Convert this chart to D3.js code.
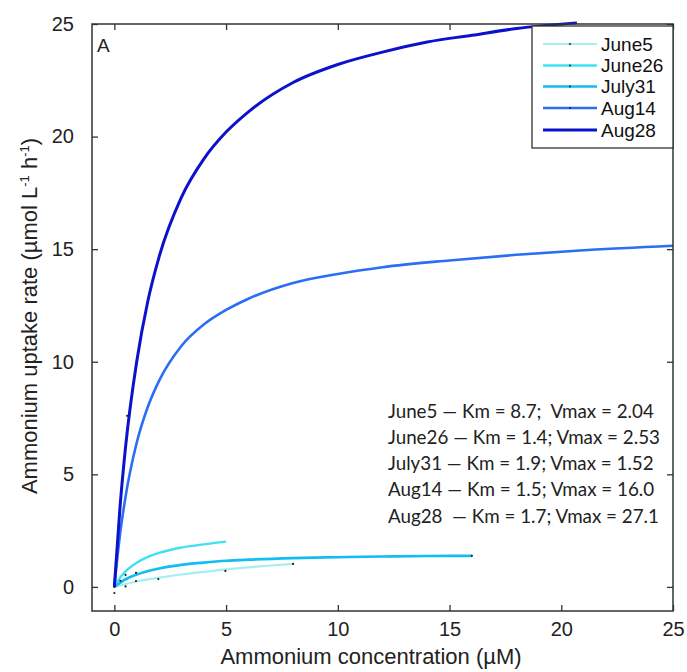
<!DOCTYPE html>
<html>
<head>
<meta charset="utf-8">
<script src="https://cdn.jsdelivr.net/npm/d3@7"></script>
<style>
  html, body { margin: 0; padding: 0; background: #fff; }
  svg { display: block; }
  .tick-label { font-family: "Liberation Sans", Arial, sans-serif; font-size: 20px; fill: #222; }
  .axis-title { font-family: "Liberation Sans", Arial, sans-serif; font-size: 22px; fill: #222; }
  .panel { font-family: "Liberation Sans", Arial, sans-serif; font-size: 19px; fill: #222; }
  .legend-text { font-family: "Liberation Sans", Arial, sans-serif; font-size: 19px; fill: #111; }
  .note { font-family: Lato, "Open Sans", sans-serif; font-size: 18.8px; fill: #222; }
</style>
</head>
<body>
<svg id="chart" width="687" height="672"></svg>
<script>
// Sampling dates (one uptake curve each)
const series = ["June5", "June26", "July31", "Aug14", "Aug28"];
const colors = ["#a6eef2", "#3fe2f2", "#12bdf2", "#2a6ef5", "#0a12cc"];
const widths = [2.2, 2.4, 2.6, 2.6, 3];

// Fitted uptake curves: concentration (µM) and uptake rate (µmol L-1 h-1)
const june5X  = [0, 0.5, 1, 2, 3, 4, 5, 6, 7, 8];
const june5Y  = [0, 0.13, 0.24, 0.41, 0.55, 0.67, 0.78, 0.87, 0.95, 1.02];
const june26X = [0, 0.25, 0.5, 1, 1.5, 2, 2.5, 3, 4, 5];
const june26Y = [0, 0.40, 0.69, 1.07, 1.33, 1.51, 1.64, 1.75, 1.89, 2.01];
const july31X = [0, 0.5, 1, 2, 3, 4, 5, 6, 8, 10, 12, 14, 16];
const july31Y = [0, 0.34, 0.55, 0.82, 0.98, 1.08, 1.16, 1.21, 1.28, 1.32, 1.35, 1.37, 1.38];
const aug14X  = [0, 0.25, 0.5, 1, 1.5, 2, 3, 4, 5, 6, 8, 10, 12, 15, 18, 21, 25];
const aug14Y  = [0, 2.3, 4.0, 6.4, 8.0, 9.15, 10.7, 11.65, 12.3, 12.8, 13.5, 13.9, 14.2, 14.5, 14.75, 14.95, 15.15];
const aug28X  = [0, 0.25, 0.5, 1, 1.5, 2, 3, 4, 5, 6, 8, 10, 12, 14, 16, 18, 20.7];
const aug28Y  = [0, 3.5, 6.2, 10.0, 12.7, 14.65, 17.3, 19.0, 20.2, 21.1, 22.4, 23.2, 23.75, 24.2, 24.5, 24.8, 25.05];

// Measured points (black dots)
const obsX = [0, 0, 0.27, 0.5, 0.5, 0.97, 0.97, 1.97, 4.97, 8.0, 16.0, 0.57];
const obsY = [0, -0.27, 0.27, 0.53, 0.02, 0.62, 0.26, 0.35, 0.71, 1.02, 1.38, 7.6];

// Axis ticks
const xTicks = [0, 5, 10, 15, 20, 25];
const yTicks = [0, 5, 10, 15, 20, 25];

// Kinetic parameter notes
const notes = [
  "June5 \u2014 Km = 8.7;\u00a0 Vmax = 2.04",
  "June26 \u2014 Km = 1.4; Vmax = 2.53",
  "July31 \u2014 Km = 1.9; Vmax = 1.52",
  "Aug14 \u2014 Km = 1.5; Vmax = 16.0",
  "Aug28 \u00a0\u2014 Km = 1.7; Vmax = 27.1"
];

const curves = [
  [june5X, june5Y], [june26X, june26Y], [july31X, july31Y], [aug14X, aug14Y], [aug28X, aug28Y]
].map(([xs, ys], i) => ({ name: series[i], color: colors[i], width: widths[i],
  pts: xs.map((x, j) => [x, ys[j]]) }));

const svg = d3.select("#chart");
const L = 92, R = 673, T = 24, B = 611;

const x = d3.scaleLinear().domain([-1, 25]).range([L, R]);
const y = d3.scaleLinear().domain([-1.07, 25]).range([B, T]);

svg.append("defs").append("clipPath").attr("id", "plotClip")
  .append("rect").attr("x", L).attr("y", T - 4).attr("width", R - L).attr("height", B - T + 4);

const line = d3.line().x(d => x(d[0])).y(d => y(d[1])).curve(d3.curveMonotoneX);

const plot = svg.append("g").attr("clip-path", "url(#plotClip)");
plot.selectAll("path.curve").data(curves).join("path")
  .attr("class", "curve")
  .attr("d", d => line(d.pts))
  .attr("fill", "none")
  .attr("stroke", d => d.color)
  .attr("stroke-width", d => d.width)
  .attr("stroke-linejoin", "round");

plot.selectAll("circle.obs").data(obsX.map((v, i) => [v, obsY[i]])).join("circle")
  .attr("class", "obs")
  .attr("cx", d => x(d[0])).attr("cy", d => y(d[1]))
  .attr("r", 1.1).attr("fill", "#222");

// Frame with inward ticks on all four sides
const frameColor = "#333";
const tickLen = 6;
const axB = svg.append("g").attr("transform", `translate(0,${B})`)
  .call(d3.axisBottom(x).tickValues(xTicks).tickSizeInner(-tickLen).tickSizeOuter(0).tickPadding(11));
const axT = svg.append("g").attr("transform", `translate(0,${T})`)
  .call(d3.axisTop(x).tickValues(xTicks).tickSizeInner(-tickLen).tickSizeOuter(0).tickFormat(""));
const axL = svg.append("g").attr("transform", `translate(${L},0)`)
  .call(d3.axisLeft(y).tickValues(yTicks).tickSizeInner(-tickLen).tickSizeOuter(0).tickPadding(18));
const axR = svg.append("g").attr("transform", `translate(${R},0)`)
  .call(d3.axisRight(y).tickValues(yTicks).tickSizeInner(-tickLen).tickSizeOuter(0).tickFormat(""));
[axB, axT, axL, axR].forEach(g => {
  g.select(".domain").remove();
  g.selectAll(".tick line").attr("stroke", frameColor).attr("stroke-width", 1.3);
  g.selectAll(".tick text").attr("class", "tick-label").attr("font-size", null).attr("font-family", null);
});
axB.selectAll(".tick text").attr("dy", "0.71em");

svg.append("rect").attr("x", L).attr("y", T).attr("width", R - L).attr("height", B - T)
  .attr("fill", "none").attr("stroke", frameColor).attr("stroke-width", 1.5);

// Panel letter
svg.append("text").attr("class", "panel").attr("x", 97).attr("y", 52).text("A");

// Legend
const lg = svg.append("g");
lg.append("rect").attr("x", 532).attr("y", 26).attr("width", R - 532).attr("height", 122)
  .attr("fill", "#fff").attr("stroke", frameColor).attr("stroke-width", 1.3);
const rowY = [44, 65.5, 86.5, 108, 130];
curves.forEach((c, i) => {
  const g = lg.append("g").attr("transform", `translate(0,${rowY[i]})`);
  g.append("line").attr("x1", 543).attr("x2", 597).attr("y1", 0).attr("y2", 0)
    .attr("stroke", c.color).attr("stroke-width", c.width);
  g.append("circle").attr("cx", 570).attr("cy", 0).attr("r", 1).attr("fill", "#222");
  g.append("text").attr("class", "legend-text").attr("x", 601).attr("y", 0).attr("dy", "0.35em").text(c.name);
});

// Parameter notes
svg.append("g").selectAll("text").data(notes).join("text")
  .attr("class", "note")
  .attr("x", 388)
  .attr("y", (d, i) => 411 + i * 26.3)
  .attr("dy", "0.35em")
  .text(d => d);

// Axis titles
svg.append("text").attr("class", "axis-title")
  .attr("x", 371).attr("y", 664).attr("text-anchor", "middle")
  .text("Ammonium concentration (\u00b5M)");

const yt = svg.append("text").attr("class", "axis-title")
  .attr("transform", "translate(37,316) rotate(-90)")
  .attr("text-anchor", "middle");
yt.append("tspan").text("Ammonium uptake rate (\u00b5mol L");
yt.append("tspan").attr("dy", -8).attr("font-size", 13).text("-1");
yt.append("tspan").attr("dy", 8).text(" h");
yt.append("tspan").attr("dy", -8).attr("font-size", 13).text("-1");
yt.append("tspan").attr("dy", 8).text(")");
</script>
</body>
</html>
